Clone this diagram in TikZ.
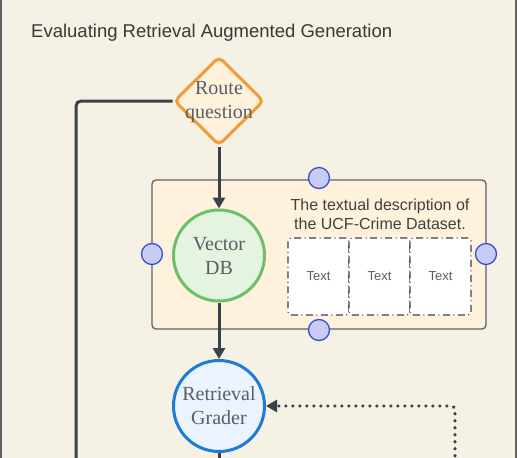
\documentclass[tikz,border=0pt]{standalone}
\usepackage{fontspec}
\setmainfont{Liberation Serif}
\setsansfont{Liberation Sans}
\usetikzlibrary{shapes.geometric,arrows.meta}
\definecolor{bg}{HTML}{F5F1E4}
\definecolor{frameg}{HTML}{5F6266}
\definecolor{linec}{HTML}{3A414A}
\definecolor{orng}{HTML}{F29B38}
\definecolor{orngfill}{HTML}{FFF2DC}
\definecolor{grn}{HTML}{6CC06A}
\definecolor{grnfill}{HTML}{E5F4E0}
\definecolor{blu}{HTML}{1E7BD8}
\definecolor{blufill}{HTML}{EAF3FE}
\definecolor{hdl}{HTML}{C8CCF5}
\definecolor{hdlline}{HTML}{3A4FC8}
\definecolor{txtg}{HTML}{5A5E66}
\tikzset{
  conn/.style={draw=linec, line width=3pt, rounded corners=5pt},
  tip/.style={-{Triangle[length=11pt,width=12pt]}},
  handle/.style={circle, draw=hdlline, fill=hdl, line width=1.3pt, minimum size=21pt, inner sep=0pt},
  roundnode/.style={circle, line width=3pt, minimum size=91pt, inner sep=0pt, align=center, text=txtg, font=\fontsize{20}{24}\selectfont},
  textbox/.style={draw=linec, fill=white, line width=1.1pt, dash pattern=on 7pt off 3.5pt on 1pt off 3.5pt, rounded corners=3pt, minimum width=61pt, minimum height=77pt, inner sep=0pt, font=\sffamily\fontsize{13}{15}\selectfont, text=txtg}
}
\begin{document}
\begin{tikzpicture}[x=1pt,y=-1pt]
\useasboundingbox (0,0) rectangle (517,458);
\fill[bg] (0,0) rectangle (517,458);
\draw[frameg, line width=2pt] (1,-2) -- (1,460);
\draw[frameg, line width=2pt] (516,-2) -- (516,460);
\node[anchor=west, inner sep=0pt, font=\sffamily\fontsize{18.5}{22}\selectfont, text=black!78] (title) at (31,33) {Evaluating Retrieval Augmented Generation};

% container
\node[draw=frameg, fill=orngfill, line width=1.3pt, rounded corners=4pt, minimum width=334pt, minimum height=149pt, inner sep=0pt] (cont) at (319,254.5) {};
\node[handle] (ht) at (319,178) {};
\node[handle] (hb) at (319,330) {};
\node[handle] (hl) at (152,254) {};
\node[handle] (hr) at (486,254) {};

\node[align=center, font=\sffamily\fontsize{16}{19}\selectfont, text=black!75] (desc) at (380,214) {The textual description of\\the UCF-Crime Dataset.};
\node[textbox] (t1) at (318.5,276.5) {Text};
\node[textbox] (t2) at (379.5,276.5) {Text};
\node[textbox] (t3) at (440.5,276.5) {Text};

% diamond
\node[diamond, aspect=1, draw=orng, fill=orngfill, line width=3pt, rounded corners=5pt, minimum width=90pt, minimum height=89pt, inner sep=0pt] (route) at (219,101) {};
\node[align=center, text=txtg, font=\fontsize{20}{24}\selectfont] (routetxt) at (219,102) {Route\\question};

\node[roundnode, draw=grn, fill=grnfill] (vdb) at (219,255.5) {Vector\\DB};
\node[roundnode, draw=blu, fill=blufill] (grader) at (219,406) {Retrieval\\Grader};

\coordinate (leftbot) at (76,470);
\coordinate (gradbot) at (219,470);
\coordinate (dotbot) at (455,470);

\draw[conn] (route.west) -- (76,101) -- (leftbot);
\draw[conn, tip] (route.south) -- (vdb.north);
\draw[conn, tip] (vdb.south) -- (grader.north);
\draw[conn] (grader.south) -- (gradbot);
\draw[draw=linec, line width=3.2pt, line cap=round, dash pattern=on 0.5pt off 6.5pt, rounded corners=4pt, tip] (dotbot) -- (455,406) -- (grader.east);
\end{tikzpicture}
\end{document}
